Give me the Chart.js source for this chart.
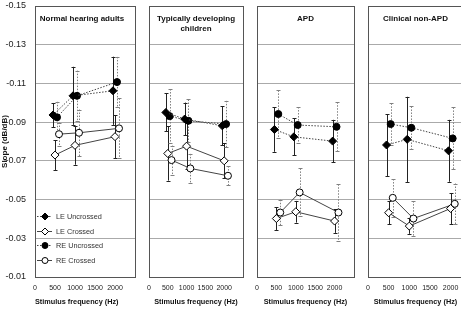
<!DOCTYPE html>
<html>
<head>
<meta charset="utf-8">
<script src="https://cdn.jsdelivr.net/npm/chart.js@4.4.0/dist/chart.umd.min.js"></script>
<style>
  html, body { margin: 0; padding: 0; background: #fff; }
  #wrap { position: relative; width: 461px; height: 309px; overflow: hidden; }
  #wrap canvas { position: absolute; top: 0; }
</style>
</head>
<body>
<div id="wrap"></div>
<script>
var seriesNames = ['LE Uncrossed', 'LE Crossed', 'RE Uncrossed', 'RE Crossed'];
var panelTitles = [['Normal hearing adults'], ['Typically developing', 'children'], ['APD'], ['Clinical non-APD']];
var yTicks = [-0.15, -0.13, -0.11, -0.09, -0.07, -0.05, -0.03, -0.01];
var xTicks = [0, 500, 1000, 1500, 2000];
var xMax = [2500, 2500, 2500, 2300];

// frequencies as plotted (series nudged sideways in the original figure)
var leUncrossedHz = [450, 950, 1950];
var leCrossedHz = [500, 1000, 2000];
var reUncrossedHz = [550, 1050, 2050];
var reCrossedHz = [600, 1100, 2100];

// one row per panel: adults, children, APD, clinical non-APD
var leUncrossed = [
    [-0.0937, -0.1036, -0.1062],
    [-0.0950, -0.0916, -0.0881],
    [-0.0862, -0.0824, -0.0802],
    [-0.0782, -0.0811, -0.0752]
];
var leUncrossedErr = [
    [0.0062, 0.0150, 0.0176],
    [0.0098, 0.0085, 0.0100],
    [0.0115, 0.0095, 0.0110],
    [0.0160, 0.0220, 0.0160]
];
var leCrossed = [
    [-0.0730, -0.0780, -0.0825],
    [-0.0738, -0.0776, -0.0700],
    [-0.0402, -0.0437, -0.0389],
    [-0.0432, -0.0363, -0.0454]
];
var leCrossedErr = [
    [0.0077, 0.0100, 0.0110],
    [0.0140, 0.0120, 0.0090],
    [0.0059, 0.0056, 0.0061],
    [0.0060, 0.0040, 0.0080]
];
var reUncrossed = [
    [-0.0925, -0.1036, -0.1107],
    [-0.0931, -0.0907, -0.0890],
    [-0.0942, -0.0885, -0.0876],
    [-0.0890, -0.0871, -0.0816]
];
var reUncrossedErr = [
    [0.0080, 0.0130, 0.0130],
    [0.0140, 0.0110, 0.0120],
    [0.0122, 0.0093, 0.0127],
    [0.0107, 0.0110, 0.0160]
];
var reCrossed = [
    [-0.0838, -0.0845, -0.0868],
    [-0.0704, -0.0661, -0.0623],
    [-0.0433, -0.0537, -0.0433],
    [-0.0509, -0.0402, -0.0478]
];
var reCrossedErr = [
    [0.0060, 0.0120, 0.0155],
    [0.0075, 0.0075, 0.0050],
    [0.0066, 0.0124, 0.0146],
    [0.0097, 0.0090, 0.0105]
];

var FONT = '"Liberation Sans", Arial, sans-serif';
Chart.defaults.font.family = FONT;
Chart.defaults.color = '#222';

var seriesStyles = [
    {pointStyle: 'rectRot', pointRadius: 4, pointBackgroundColor: '#000', borderDash: [1.5, 1.5], errColor: '#222', errDash: []},
    {pointStyle: 'rectRot', pointRadius: 4, pointBackgroundColor: '#fff', borderDash: [], errColor: '#222', errDash: []},
    {pointStyle: 'circle', pointRadius: 3.5, pointBackgroundColor: '#000', borderDash: [1.5, 1.5], errColor: '#808080', errDash: [1.5, 1.5]},
    {pointStyle: 'circle', pointRadius: 3.5, pointBackgroundColor: '#fff', borderDash: [], errColor: '#808080', errDash: [1.5, 1.5]}
];

// canvas placement of each panel
var panelBoxes = [
    {left: 0, width: 140, padL: 0, padR: 3, yWidth: 35},
    {left: 140, width: 108, padL: 4, padR: 4, yWidth: 0},
    {left: 248, width: 111, padL: 7, padR: 4, yWidth: 0},
    {left: 359, width: 109, padL: 8, padR: 4, yWidth: 0}
];

var panelDecor = {
    id: 'panelDecor',
    beforeDatasetsDraw: function(chart) {
        var ctx = chart.ctx, a = chart.chartArea, ys = chart.scales.y;
        ctx.save();
        ctx.strokeStyle = '#555';
        ctx.lineWidth = 1;
        ctx.strokeRect(Math.round(a.left) + 0.5, Math.round(a.top) + 0.5,
            Math.round(a.right - a.left), Math.round(a.bottom - a.top));
        // error bars
        chart.data.datasets.forEach(function(ds, i) {
            var meta = chart.getDatasetMeta(i);
            ctx.strokeStyle = ds.errColor;
            meta.data.forEach(function(pt, j) {
                var v = ds.data[j].y, e = ds.errors[j];
                var x = Math.round(pt.x) + 0.5;
                var y1 = ys.getPixelForValue(v - e), y2 = ys.getPixelForValue(v + e);
                ctx.setLineDash(ds.errDash);
                ctx.beginPath();
                ctx.moveTo(x, y1);
                ctx.lineTo(x, y2);
                ctx.stroke();
                ctx.setLineDash([]);
                ctx.beginPath();
                ctx.moveTo(x - 2, Math.round(y1) + 0.5);
                ctx.lineTo(x + 2, Math.round(y1) + 0.5);
                ctx.moveTo(x - 2, Math.round(y2) + 0.5);
                ctx.lineTo(x + 2, Math.round(y2) + 0.5);
                ctx.stroke();
            });
        });
        ctx.restore();
    },
    afterDraw: function(chart, args, opts) {
        var ctx = chart.ctx, a = chart.chartArea;
        ctx.save();
        ctx.fillStyle = '#111';
        ctx.font = 'bold 8px ' + FONT;
        ctx.textAlign = 'center';
        ctx.textBaseline = 'middle';
        var cx = (a.left + a.right) / 2 + (opts.titleShift || 0);
        opts.title.forEach(function(line, k) {
            ctx.fillText(line, cx, a.top + 13 + k * 9.5);
        });
        if (opts.legend) {
            chart.data.datasets.forEach(function(ds, i) {
                var y = Math.round(a.bottom - 61 + i * 14.6) + 0.5;
                var x0 = a.left + 2;
                ctx.strokeStyle = ds.borderColor;
                ctx.lineWidth = 1;
                ctx.setLineDash(ds.borderDash);
                ctx.beginPath();
                ctx.moveTo(x0, y);
                ctx.lineTo(x0 + 15, y);
                ctx.stroke();
                ctx.setLineDash([]);
                ctx.fillStyle = ds.pointBackgroundColor;
                ctx.strokeStyle = ds.pointBorderColor;
                Chart.helpers.drawPoint(ctx, {pointStyle: ds.pointStyle, rotation: 0,
                    radius: ds.pointRadius - 0.5, borderWidth: 1}, x0 + 8, y);
                ctx.fillStyle = '#333';
                ctx.font = '7.3px ' + FONT;
                ctx.textAlign = 'left';
                ctx.fillText(ds.label, x0 + 19, y);
            });
        }
        ctx.restore();
    }
};

function makeDataset(k, xs, ys, errs) {
    var st = seriesStyles[k];
    return {
        label: seriesNames[k],
        data: xs.map(function(x, i) { return {x: x, y: ys[i]}; }),
        errors: errs,
        showLine: true,
        borderColor: '#444',
        borderWidth: 1,
        borderDash: st.borderDash,
        pointStyle: st.pointStyle,
        pointRadius: st.pointRadius,
        pointBackgroundColor: st.pointBackgroundColor,
        pointBorderColor: '#000',
        pointBorderWidth: 1,
        errColor: st.errColor,
        errDash: st.errDash
    };
}

function drawPanel(p) {
    var box = panelBoxes[p];
    var canvas = document.createElement('canvas');
    canvas.width = box.width;
    canvas.height = 309;
    canvas.style.left = box.left + 'px';
    document.getElementById('wrap').appendChild(canvas);
    var first = p === 0;

    new Chart(canvas.getContext('2d'), {
        type: 'scatter',
        data: {
            datasets: [
                makeDataset(0, leUncrossedHz, leUncrossed[p], leUncrossedErr[p]),
                makeDataset(1, leCrossedHz, leCrossed[p], leCrossedErr[p]),
                makeDataset(2, reUncrossedHz, reUncrossed[p], reUncrossedErr[p]),
                makeDataset(3, reCrossedHz, reCrossed[p], reCrossedErr[p])
            ]
        },
        options: {
            responsive: false,
            animation: false,
            devicePixelRatio: 1,
            layout: {padding: {left: box.padL, right: box.padR, top: 6, bottom: 0}},
            scales: {
                x: {
                    type: 'linear',
                    min: 0,
                    max: xMax[p],
                    afterBuildTicks: function(s) { s.ticks = xTicks.map(function(v) { return {value: v}; }); },
                    afterFit: function(s) { s.height = 32; },
                    grid: {display: false, drawTicks: false},
                    border: {display: false},
                    ticks: {
                        font: {size: 7},
                        padding: 7,
                        maxRotation: 0,
                        autoSkip: false,
                        callback: function(v) { return String(v); }
                    },
                    title: {
                        display: true,
                        text: 'Stimulus frequency (Hz)',
                        align: first ? 'start' : 'center',
                        font: {size: 7.3, weight: 'bold'},
                        padding: {top: 0, bottom: 2.6},
                        color: '#111'
                    }
                },
                y: {
                    type: 'linear',
                    reverse: true,
                    min: -0.15,
                    max: -0.01,
                    afterBuildTicks: function(s) { s.ticks = yTicks.map(function(v) { return {value: v}; }); },
                    afterFit: function(s) {
                        s.width = box.yWidth;
                        s.paddingTop = 0;
                        s.paddingBottom = 0;
                    },
                    grid: {color: '#aaaaaa', lineWidth: 1, drawTicks: false},
                    border: {display: false},
                    ticks: {
                        display: first,
                        font: {size: 9},
                        padding: 9,
                        callback: function(v) { return v.toFixed(2); }
                    },
                    title: {
                        display: first,
                        text: 'Slope (dB/dB)',
                        font: {size: 8, weight: 'bold'},
                        padding: {top: 0, bottom: 0},
                        color: '#111'
                    }
                }
            },
            plugins: {
                legend: {display: false},
                tooltip: {enabled: false},
                panelDecor: {title: panelTitles[p], legend: first, titleShift: first ? -3 : 0}
            }
        },
        plugins: [panelDecor]
    });
}

for (var p = 0; p < 4; p++) {
    drawPanel(p);
}
</script>
</body>
</html>
